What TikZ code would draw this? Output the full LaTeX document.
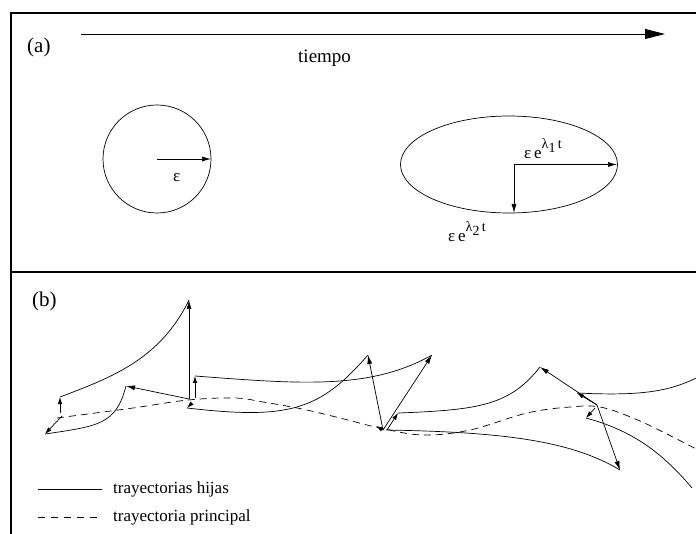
\documentclass[tikz,border=0pt]{standalone}
\usepackage{fontspec}
\setmainfont{Liberation Serif}
\usetikzlibrary{arrows.meta}
\newcommand\growthlbl[1]{ε\,e\raisebox{0.6em}{\fontsize{14}{16}\selectfont λ\raisebox{-0.25em}{#1}\,t}}
\begin{document}
\begin{tikzpicture}[x=1pt,y=-1pt,
  frame/.style={line width=1.6pt},
  traj/.style={line width=0.7pt},
  mainpath/.style={line width=0.7pt, dash pattern=on 7pt off 5pt},
  vec/.style={line width=0.7pt,-{Latex[length=9pt,width=5pt]}},
  smallvec/.style={line width=0.7pt,-{Latex[length=7pt,width=4.5pt]}},
  lbl/.style={inner sep=0pt, font=\fontsize{17}{20}\selectfont},
  panel/.style={inner sep=0pt, font=\fontsize{21}{24}\selectfont}]
\useasboundingbox (0,0) rectangle (696,534);
\clip (0,0) rectangle (696,534);
% frame
\draw[frame] (11,534) -- (11,13) -- (696,13);
\draw[frame] (11,272) -- (696,272);
% ---------- panel (a)
\node[panel, anchor=base west] (la) at (27,53) {(a)};
\coordinate (t0) at (81,34);
\coordinate (t1) at (665,34);
\draw[line width=0.9pt, -{Triangle[length=20pt,width=10pt]}] (t0) -- (t1);
\node[inner sep=0pt, anchor=base west, font=\fontsize{19}{22}\selectfont] (ltime) at (298,63) {tiempo};
% circle
\coordinate (cc) at (157,159);
\draw[traj] (cc) circle[radius=54];
\coordinate (cr) at (211,159);
\draw[vec] (cc) -- (cr);
\node[lbl, anchor=base west] (leps) at (173,182) {ε};
% ellipse
\draw[traj] (509,164.5) ellipse[x radius=108.5, y radius=48.5];
\coordinate (ec) at (514,164.5);
\coordinate (er) at (617,164.5);
\coordinate (eb) at (514,213);
\draw[vec] (ec) -- (er);
\draw[vec] (ec) -- (eb);
\node[lbl, anchor=base west] (l1) at (524,159) {\growthlbl{1}};
\node[lbl, anchor=base west] (l2) at (448,242) {\growthlbl{2}};
% ---------- panel (b)
\node[panel, anchor=base west] (lb) at (32,307) {(b)};
% main trajectory
\draw[mainpath] plot[smooth, tension=0.6] coordinates {(57,418) (133,408) (188,400) (235,398) (263,402) (302,409) (340,418) (380,428) (423,435) (470,430) (527,413) (570,407) (600,407) (633,418) (663,432) (700,451)};
% points on main trajectory
\coordinate (P0) at (62,416);
\coordinate (P0a) at (60,413);
\coordinate (P1) at (189,399);
\coordinate (P1a) at (195,398);
\coordinate (P1b) at (192,403);
\coordinate (P2) at (383,430);
\coordinate (P2a) at (387,430);
\coordinate (P3) at (597,405);
\coordinate (P3a) at (595,408);
% daughter starts / ends
\coordinate (D1s) at (60,397);  \coordinate (D1e) at (189,300);
\coordinate (D2s) at (45,434);  \coordinate (D2e) at (126,386);
\coordinate (D3s) at (195,376); \coordinate (D3e) at (432,355);
\coordinate (D4s) at (187,408); \coordinate (D4e) at (368,355);
\coordinate (D5s) at (398,413); \coordinate (D5e) at (540,367);
\coordinate (D6s) at (386,430); \coordinate (D6e) at (620,470);
\coordinate (D7s) at (577,393);
\coordinate (D8s) at (586,418);
\coordinate (Q2) at (376,426);
% daughter trajectories
\draw[traj] (D1s) .. controls (110,378) and (160,360) .. (D1e);
\draw[traj] (D2s) .. controls (100,426) and (116,424) .. (D2e);
\draw[traj] (D3s) .. controls (300,384) and (370,390) .. (D3e);
\draw[traj] (D4s) .. controls (290,420) and (320,410) .. (D4e);
\draw[traj] (D5s) .. controls (480,410) and (510,405) .. (D5e);
\draw[traj] (D6s) .. controls (500,432) and (570,440) .. (D6e);
\draw[traj] (D7s) .. controls (640,396) and (670,392) .. (700,376);
\draw[traj] (D8s) .. controls (630,430) and (660,450) .. (692,488);
% separation vectors
\draw[smallvec] (P0a) -- (D1s);
\draw[smallvec] (P0) -- (D2s);
\draw[vec] (P1) -- (D1e);
\draw[vec] (P1) -- (D2e);
\draw[smallvec] (P1a) -- (D3s);
\draw[smallvec] (P1b) -- (D4s);
\draw[vec] (P2) -- (D4e);
\draw[vec] (P2) -- (D3e);
\draw[smallvec] (P2a) -- (D5s);
\draw[smallvec] (P2) -- (Q2);
\draw[vec] (P3) -- (D5e);
\draw[vec] (P3) -- (D6e);
\draw[smallvec] (P3) -- (D7s);
\draw[smallvec] (P3a) -- (D8s);
% legend
\coordinate (s0) at (38,489); \coordinate (s1) at (102,489);
\draw[traj] (s0) -- (s1);
\node[lbl, anchor=west] (lh) at (113,489) {trayectorias hijas};
\coordinate (m0) at (38,517); \coordinate (m1) at (100,517);
\draw[mainpath, dash pattern=on 7pt off 6pt] (m0) -- (m1);
\node[lbl, anchor=west] (lp) at (113,517) {trayectoria principal};
\end{tikzpicture}
\end{document}
